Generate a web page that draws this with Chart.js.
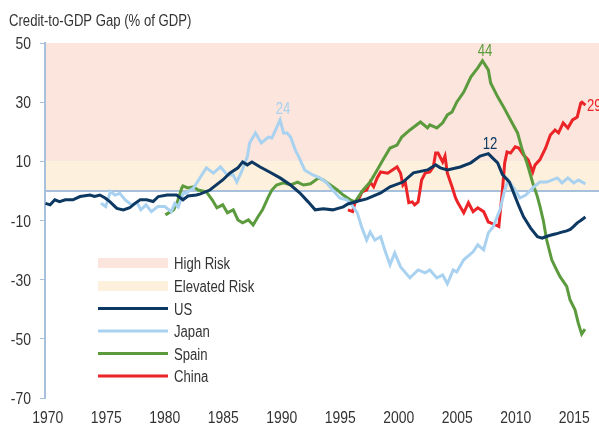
<!DOCTYPE html>
<html>
<head>
<meta charset="utf-8">
<script src="https://cdn.jsdelivr.net/npm/chart.js@4/dist/chart.umd.min.js"></script>
<style>
	html, body { margin: 0; padding: 0; background: #fff; }
</style>
</head>
<body>
<canvas id="chart" width="599" height="424"></canvas>
<script>
/* data: [year, gap %] */
const us = [
	[1969.8,-4.2],[1970.2,-4.7],[1970.6,-3],[1971,-3.6],[1971.5,-3],[1972.15,-3],[1972.75,-1.9],
	[1973.6,-1.4],[1974,-1.9],[1974.45,-1.4],[1974.9,-2.4],[1975.3,-3.6],[1975.9,-5.9],[1976.45,-6.4],
	[1977,-5.7],[1977.45,-4.2],[1977.9,-3],[1978.45,-3],[1979,-3.6],[1979.45,-1.9],[1980.2,-1.4],
	[1981,-1.4],[1981.55,-3],[1981.98,-1.7],[1982.7,-1.4],[1983.05,-1],[1983.85,0.3],[1984.95,3.7],[1985.55,6],
	[1986.25,7.8],[1986.65,9.8],[1987.05,8.8],[1987.45,9.8],[1988.15,8.1],[1988.95,6.4],[1989.85,4.4],
	[1990.75,2],[1991.55,-0.7],[1992.25,-3.7],[1992.85,-6.4],[1993.55,-6],[1994.35,-6.4],[1995.25,-5.4],
	[1995.65,-4.4],[1996.45,-3.5],[1997.25,-2.7],[1998.45,-0.7],[1999.25,1.4],[2000.35,3],[2001.25,6.1],
	[2002.45,7.1],[2003.15,8.8],[2003.55,7.8],[2004.15,7.1],[2005.25,8.1],[2006.15,9.5],[2006.95,11.8],
	[2007.65,12.6],[2008.05,11],[2008.45,9.5],[2008.85,5.6],[2009.45,3],[2009.85,-1],[2010.25,-5],
	[2010.65,-8.7],[2011.25,-12.5],[2011.85,-15.5],[2012.25,-16],[2012.55,-15.5],[2012.95,-15],
	[2013.45,-14.5],[2013.85,-14],[2014.35,-13.5],[2014.65,-13],[2014.95,-12],[2015.25,-10.8],
	[2015.55,-10],[2015.95,-8.8]
];
const japan = [
	[1974.55,-4.2],[1974.95,-5.3],[1975.35,-0.2],[1975.75,-1.4],[1976.15,-0.8],[1976.6,-3],[1977.15,-4.7],
	[1977.65,-4],[1977.95,-6.4],[1978.4,-4.7],[1978.85,-7],[1979.4,-5.3],[1980,-5.3],[1980.55,-7],
	[1980.85,-4.2],[1981.15,-5.4],[1981.55,-1],[1981.85,-0.7],[1982.45,1],[1983.05,4.7],[1983.55,7.8],
	[1984.15,6],[1984.75,8.1],[1985.35,5.4],[1985.85,5.4],[1986.15,3],[1986.55,6.4],[1987.05,11.5],
	[1987.25,16.2],[1987.75,19.6],[1988.25,16.2],[1988.85,18.2],[1989.15,17.9],[1989.55,21.3],[1989.85,24],
	[1990.15,19.6],[1990.45,19.6],[1990.75,18.2],[1991.15,13.9],[1991.45,11.5],[1991.95,7.1],[1992.65,5.4],
	[1993.25,4.4],[1993.85,2.7],[1994.35,0.3],[1994.95,-2.4],[1995.55,-3],[1995.85,-4],[1996.45,-7.4],
	[1996.85,-12.5],[1997.25,-16.6],[1997.55,-13.9],[1997.95,-16.6],[1998.45,-15.5],[1998.85,-20.6],
	[1999.25,-25],[1999.65,-21],[2000.15,-25.7],[2000.95,-29.4],[2001.65,-26.7],[2002.25,-27.7],
	[2002.65,-26.7],[2003.25,-29.4],[2003.75,-28.4],[2004.15,-31.4],[2004.65,-26.7],[2004.95,-27.4],
	[2005.55,-23.3],[2006.35,-20.6],[2006.75,-18.2],[2007.25,-19.9],[2007.65,-14.2],[2008.05,-12.2],
	[2008.65,-6.4],[2009.05,0.3],[2009.35,3.7],[2009.95,0.3],[2010.35,-2.4],[2010.85,-1.4],[2011.45,1],
	[2012.05,3],[2012.65,3],[2013.55,4.4],[2013.95,2.7],[2014.45,4.4],[2014.95,2.7],[2015.35,3.7],
	[2015.95,2.4]
];
const spain = [
	[1980.05,-8.1],[1980.75,-6.4],[1981.05,-4],[1981.45,1],[1981.55,1.7],[1981.95,1],[1982.45,1.4],
	[1982.85,0.3],[1983.55,-0.3],[1984.05,-3],[1984.45,-5.7],[1984.95,-4.7],[1985.35,-7.4],[1985.85,-6.4],
	[1986.25,-9.8],[1986.65,-10.8],[1987.15,-9.8],[1987.55,-11.5],[1987.95,-8.8],[1988.35,-6.4],
	[1988.85,-2],[1989.15,0.3],[1989.55,2],[1990.15,2.7],[1990.75,2],[1991.35,3],[1991.85,2],[1992.45,2.4],
	[1993.15,4.4],[1993.55,3.7],[1994.15,2],[1994.75,0.3],[1995.25,-1.4],[1995.85,-3],[1996.25,-3.7],
	[1996.95,0.3],[1997.55,3],[1998.15,7.1],[1998.65,10.5],[1999.25,14.5],[1999.85,15.5],[2000.25,18.2],
	[2000.95,20.6],[2001.85,23.3],[2002.45,21.3],[2002.65,22.3],[2003.25,21.3],[2003.75,23],[2004.15,25.7],
	[2004.55,26.7],[2004.95,30],[2005.55,33.4],[2006.15,38.5],[2006.75,41.6],[2007.15,44],[2007.65,40.9],
	[2007.85,36.5],[2008.45,31.8],[2008.95,28.4],[2009.55,24],[2010.15,19.6],[2010.55,13.9],[2010.95,9.5],
	[2011.45,2.7],[2011.85,-2],[2012.07,-5.3],[2012.35,-10],[2012.64,-16.6],[2013.07,-23.3],[2013.4,-26],
	[2013.78,-29],[2014.35,-32.3],[2014.63,-36.8],[2015.06,-40.2],[2015.34,-44.7],[2015.63,-48.4],
	[2015.91,-46.7]
];
const china = [
	[1995.65,-6.4],[1996.05,-7],[1996.25,-4],[1996.55,-3],[1996.85,-0.3],[1997.25,0.3],[1997.55,3],
	[1997.85,1.4],[1998.15,4.4],[1998.45,6.4],[1999.05,6],[1999.45,7.1],[1999.85,8.1],[2000.15,6],
	[2000.35,2],[2000.55,3],[2000.85,-4],[2001.15,-3.7],[2001.35,-4.7],[2001.65,-3.7],[2001.95,3.7],
	[2002.25,6],[2002.65,6.4],[2002.95,8.1],[2003.15,12.8],[2003.35,12.8],[2003.75,9.8],[2003.95,11.8],
	[2004.15,6],[2004.55,1.4],[2004.85,-2.4],[2005.05,-4],[2005.55,-7.4],[2005.95,-4],[2006.35,-7],
	[2006.75,-5.7],[2007.25,-7],[2007.65,-10.5],[2007.85,-10.8],[2008.45,-11.8],[2008.55,-12],
	[2008.85,0],[2009.05,9.5],[2009.25,13.2],[2009.55,12.8],[2009.95,14.9],[2010.25,14.5],[2010.65,12.2],
	[2011.05,10.5],[2011.45,6.4],[2011.65,8.8],[2012.05,10.5],[2012.55,14.5],[2012.95,18.9],
	[2013.35,20.6],[2013.65,19.6],[2014.05,23],[2014.45,21.3],[2014.85,24],[2015.25,25],[2015.55,29.7],
	[2015.65,30],[2015.95,29]
];

const seriesNames = ['US', 'Japan', 'Spain', 'China'];
const bandNames = ['High Risk', 'Elevated Risk'];
const highRisk = [10, 50];
const elevatedRisk = [0, 10];

const xTicks = [1970, 1975, 1980, 1985, 1990, 1995, 2000, 2005, 2010, 2015];
const yTicks = [-70, -50, -30, -10, 10, 30, 50];

/* peak labels: text, year, value */
const noteTexts = ['24', '44', '12', '29'];
const noteYears = [1990.1, 2007.37, 2007.79, 2016.09];
const noteValues = [28, 47.6, 16.2, 29];

/* style */
const FONT = "'Liberation Sans', Arial, sans-serif";
const NARROW = 0.82; // squeeze to a condensed face
const TEXT = '#333333';
const AXIS = '#a7c0dc';
const seriesColors = ['#0c3862', '#a9d1f0', '#5c9b3d', '#ec2327'];
const bandColors = ['#fce5dc', '#fdf1dd'];
const noteSeries = [1, 2, 0, 3];

const toPoints = (rows) => rows.map(([x, y]) => ({ x, y }));

const narrowText = (ctx, txt, x, y, size, color, align = 'left') => {
	ctx.save();
	ctx.translate(x, y);
	ctx.scale(NARROW, 1);
	ctx.font = `${size}px ${FONT}`;
	ctx.fillStyle = color;
	ctx.textAlign = align;
	ctx.textBaseline = 'alphabetic';
	ctx.fillText(txt, 0, 0);
	ctx.restore();
};

const bandsPlugin = {
	id: 'bands',
	beforeDraw(chart) {
		const { ctx, chartArea: area, scales: { y } } = chart;
		ctx.save();
		[highRisk, elevatedRisk].forEach((band, i) => {
			const top = y.getPixelForValue(band[1]);
			const bottom = y.getPixelForValue(band[0]);
			ctx.fillStyle = bandColors[i];
			ctx.fillRect(area.left, top, area.right - area.left, bottom - top);
		});
		const zero = y.getPixelForValue(0);
		ctx.strokeStyle = AXIS;
		ctx.lineWidth = 2;
		ctx.beginPath();
		ctx.moveTo(area.left, zero);
		ctx.lineTo(area.right, zero);
		ctx.stroke();
		ctx.restore();
	},
};

const textPlugin = {
	id: 'texts',
	afterDraw(chart) {
		const { ctx, chartArea: area, scales: { x, y } } = chart;

		// title
		narrowText(ctx, 'Credit-to-GDP Gap (% of GDP)', 9, 26, 16, TEXT);

		// tick labels
		x.ticks.forEach(t => narrowText(ctx, String(t.value), x.getPixelForValue(t.value), 423, 17, TEXT, 'center'));
		y.ticks.forEach(t => narrowText(ctx, String(t.value), area.left - 14, y.getPixelForValue(t.value) + 6, 17, TEXT, 'right'));

		// peak labels
		noteTexts.forEach((txt, i) => {
			narrowText(ctx, txt, x.getPixelForValue(noteYears[i]), y.getPixelForValue(noteValues[i]) + 6,
				16, seriesColors[noteSeries[i]], i === 3 ? 'left' : 'center');
		});

		// legend
		const left = 98, width = 70, rows = [263, 286, 308.5, 331, 353.5, 376];
		ctx.save();
		bandNames.forEach((name, i) => {
			ctx.fillStyle = bandColors[i];
			ctx.fillRect(left, rows[i] - 5, width, 10);
			narrowText(ctx, name, left + 76, rows[i] + 6, 16, TEXT);
		});
		chart.data.datasets.forEach((ds, i) => {
			const row = rows[i + 2];
			ctx.strokeStyle = ds.borderColor;
			ctx.lineWidth = 3;
			ctx.beginPath();
			ctx.moveTo(left, row);
			ctx.lineTo(left + width, row);
			ctx.stroke();
			narrowText(ctx, ds.label, left + 76, row + 6, 16, TEXT);
		});
		ctx.restore();
	},
};

new Chart(document.getElementById('chart'), {
	type: 'line',
	data: {
		datasets: [us, japan, spain, china].map((rows, i) => ({
			label: seriesNames[i],
			data: toPoints(rows),
			borderColor: seriesColors[i],
			borderWidth: 3,
			pointRadius: 0,
			tension: 0,
			fill: false,
		})),
	},
	options: {
		responsive: false,
		animation: false,
		devicePixelRatio: 1,
		layout: { padding: { top: 43, right: 0, bottom: 0, left: 0 } },
		plugins: {
			legend: { display: false },
			tooltip: { enabled: false },
		},
		scales: {
			x: {
				type: 'linear',
				min: 1969.76,
				max: 2017.11,
				afterBuildTicks: (scale) => { scale.ticks = xTicks.map(value => ({ value })); },
				afterFit: (scale) => { scale.height = 26; },
				grid: { display: false },
				border: { display: false },
				ticks: { display: false },
			},
			y: {
				min: -70,
				max: 50,
				afterBuildTicks: (scale) => { scale.ticks = yTicks.map(value => ({ value })); },
				afterFit: (scale) => { scale.width = 45; },
				grid: {
					drawOnChartArea: false,
					drawTicks: true,
					tickLength: 5,
					color: AXIS,
					lineWidth: 1,
				},
				border: { color: AXIS, width: 2 },
				ticks: { display: false },
			},
		},
	},
	plugins: [bandsPlugin, textPlugin],
});
</script>
</body>
</html>
